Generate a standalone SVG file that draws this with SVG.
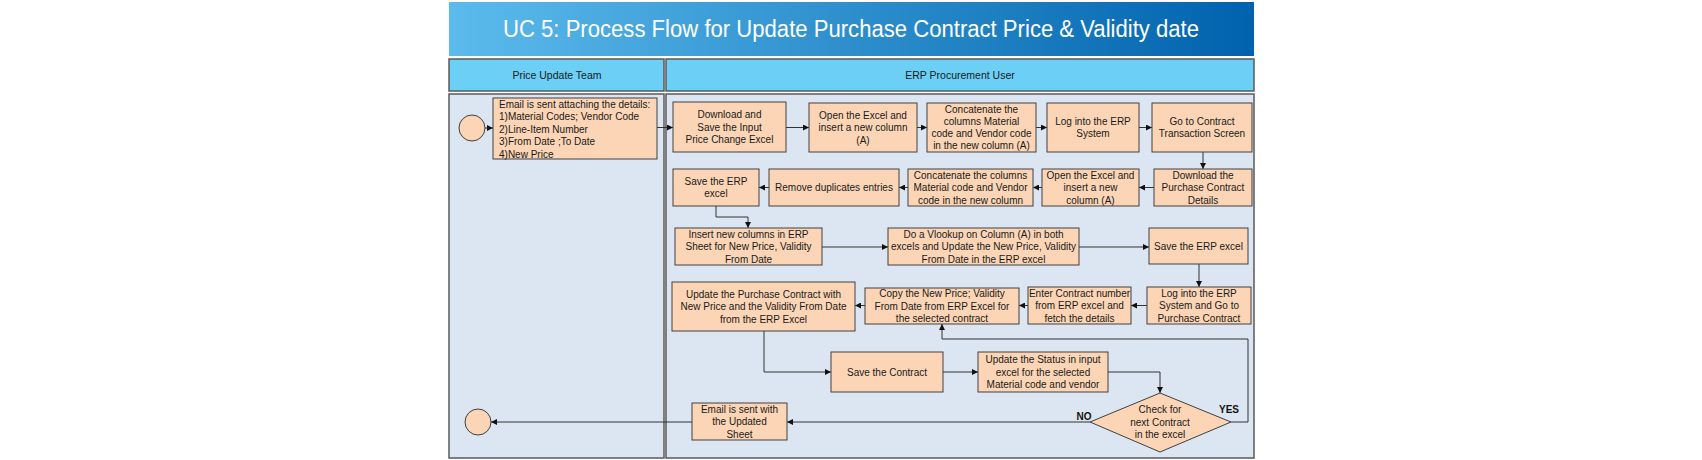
<svg xmlns="http://www.w3.org/2000/svg" width="1702" height="460" viewBox="0 0 1702 460">
<defs>
<linearGradient id="tg" x1="0" y1="0" x2="1" y2="0">
<stop offset="0" stop-color="#5cbbec"/>
<stop offset="1" stop-color="#0062ad"/>
</linearGradient>
<marker id="ah" markerUnits="userSpaceOnUse" markerWidth="7" markerHeight="6" refX="6" refY="3" orient="auto">
<path d="M0,0 L6,3 L0,6 z" fill="#111"/>
</marker>
<style>
.lane{fill:#dce6f2;stroke:#5a5a5a;stroke-width:1.5}
.hdr{fill:#6ccff5;stroke:#5a5a5a;stroke-width:1.5}
.box{fill:#fbd5b5;stroke:#404040;stroke-width:1}
.t{font-family:"Liberation Sans",Arial,sans-serif;font-size:10px;fill:#1a1a1a;text-anchor:middle}
.tl{text-anchor:start}
.h{font-family:"Liberation Sans",Arial,sans-serif;font-size:10.5px;fill:#1a1a1a;text-anchor:middle}
.b{font-family:"Liberation Sans",Arial,sans-serif;font-size:10px;font-weight:bold;fill:#111;text-anchor:middle}
.c{fill:none;stroke:#333;stroke-width:1;marker-end:url(#ah)}
</style>
</defs>
<rect x="0" y="0" width="1702" height="460" fill="#ffffff"/>
<g id="title">
<rect x="449" y="2" width="805" height="54" fill="url(#tg)"/>
<text x="851" y="37" font-family="'Liberation Sans',Arial,sans-serif" font-size="23" fill="#ffffff" text-anchor="middle" textLength="696" lengthAdjust="spacingAndGlyphs">UC 5: Process Flow for Update Purchase Contract Price &amp; Validity date</text>
</g>
<g id="lanes">
<rect class="hdr" x="449" y="59" width="215" height="32"/>
<rect class="hdr" x="666" y="59" width="588" height="32"/>
<text class="h" x="557" y="79">Price Update Team</text>
<text class="h" x="960" y="79">ERP Procurement User</text>
<rect class="lane" x="449" y="94" width="215" height="364"/>
<rect class="lane" x="666" y="94" width="588" height="364"/>
</g>
<g id="connectors">
<path class="c" d="M485,128 H493"/>
<path class="c" d="M657,127.5 H673"/>
<path class="c" d="M786,127.5 H809"/>
<path class="c" d="M917,127.5 H927"/>
<path class="c" d="M1036,127.5 H1047"/>
<path class="c" d="M1139,127.5 H1152"/>
<path class="c" d="M1203,152 V169"/>
<path class="c" d="M1154,187.5 H1139"/>
<path class="c" d="M1042,187.5 H1033"/>
<path class="c" d="M908,187.5 H899"/>
<path class="c" d="M769,187.5 H759"/>
<path class="c" d="M716,206 V217 H748 V228"/>
<path class="c" d="M822,247 H888"/>
<path class="c" d="M1079,247 H1149"/>
<path class="c" d="M1199,264 V287"/>
<path class="c" d="M1147,305.5 H1131"/>
<path class="c" d="M1028,305.5 H1019"/>
<path class="c" d="M865,305.5 H855"/>
<path class="c" d="M764,331 V372 H831"/>
<path class="c" d="M943,372 H978"/>
<path class="c" d="M1108,372 H1160 V393"/>
<path class="c" d="M1231,422 H1248 V339 H942 V324"/>
<path class="c" d="M1090,422 H787"/>
<path class="c" d="M692,422 H491"/>
<text class="b" x="1229" y="413">YES</text>
<text class="b" x="1084" y="420">NO</text>
</g>
<g id="start"><circle cx="472" cy="128" r="13" class="box"/></g>
<g id="end"><circle cx="478" cy="422" r="13" class="box"/></g>
<g id="email">
<rect class="box" x="493" y="98" width="164" height="61"/>
<text class="t tl" x="499"><tspan x="499" y="107.5">Email is sent attaching the  details:</tspan><tspan x="499" y="120">1)Material Codes; Vendor Code</tspan><tspan x="499" y="132.5">2)Line-Item Number</tspan><tspan x="499" y="145">3)From Date ;To Date</tspan><tspan x="499" y="157.5">4)New Price</tspan></text>
</g>
<g id="download">
<rect class="box" x="673" y="102" width="113" height="50"/>
<text class="t"><tspan x="729.5" y="118">Download and</tspan><tspan x="729.5" y="130.5">Save the Input</tspan><tspan x="729.5" y="143">Price Change Excel</tspan></text>
</g>
<g id="open1">
<rect class="box" x="809" y="103" width="108" height="49"/>
<text class="t"><tspan x="863" y="118.5">Open the Excel and</tspan><tspan x="863" y="131">insert a new column</tspan><tspan x="863" y="143.5">(A)</tspan></text>
</g>
<g id="concat1">
<rect class="box" x="927" y="103" width="109" height="49"/>
<text class="t"><tspan x="981.5" y="112.5">Concatenate the</tspan><tspan x="981.5" y="124.8">columns Material</tspan><tspan x="981.5" y="137.1">code and Vendor code</tspan><tspan x="981.5" y="149.4">in the new column (A)</tspan></text>
</g>
<g id="log1">
<rect class="box" x="1047" y="103" width="92" height="49"/>
<text class="t"><tspan x="1093" y="124.8">Log into the ERP</tspan><tspan x="1093" y="137.3">System</tspan></text>
</g>
<g id="goto">
<rect class="box" x="1152" y="103" width="100" height="49"/>
<text class="t"><tspan x="1202" y="124.8">Go to Contract</tspan><tspan x="1202" y="137.3">Transaction Screen</tspan></text>
</g>
<g id="dlpcd">
<rect class="box" x="1154" y="169" width="98" height="37"/>
<text class="t"><tspan x="1203" y="178.5">Download the</tspan><tspan x="1203" y="191">Purchase Contract</tspan><tspan x="1203" y="203.5">Details</tspan></text>
</g>
<g id="open2">
<rect class="box" x="1042" y="169" width="97" height="37"/>
<text class="t"><tspan x="1090.5" y="178.5">Open the Excel and</tspan><tspan x="1090.5" y="191">insert a new</tspan><tspan x="1090.5" y="203.5">column (A)</tspan></text>
</g>
<g id="concat2">
<rect class="box" x="908" y="169" width="125" height="37"/>
<text class="t"><tspan x="970.5" y="178.5">Concatenate the columns</tspan><tspan x="970.5" y="191">Material code and Vendor</tspan><tspan x="970.5" y="203.5">code in the new column</tspan></text>
</g>
<g id="remove">
<rect class="box" x="769" y="169" width="130" height="37"/>
<text class="t" x="834" y="191">Remove duplicates entries</text>
</g>
<g id="save1">
<rect class="box" x="673" y="169" width="86" height="37"/>
<text class="t"><tspan x="716" y="184.8">Save the ERP</tspan><tspan x="716" y="197.3">excel</tspan></text>
</g>
<g id="insert">
<rect class="box" x="675" y="228" width="147" height="37"/>
<text class="t"><tspan x="748.5" y="237.5">Insert new columns in ERP</tspan><tspan x="748.5" y="250">Sheet for New Price, Validity</tspan><tspan x="748.5" y="262.5">From Date</tspan></text>
</g>
<g id="vlookup">
<rect class="box" x="888" y="228" width="191" height="37"/>
<text class="t"><tspan x="983.5" y="237.5">Do a Vlookup on Column (A) in both</tspan><tspan x="983.5" y="250">excels and Update the New Price, Validity</tspan><tspan x="983.5" y="262.5">From Date in the ERP excel</tspan></text>
</g>
<g id="save2">
<rect class="box" x="1149" y="228" width="99" height="36"/>
<text class="t" x="1198.5" y="249.5">Save the ERP excel</text>
</g>
<g id="log2">
<rect class="box" x="1147" y="287" width="104" height="37"/>
<text class="t"><tspan x="1199" y="296.5">Log into the ERP</tspan><tspan x="1199" y="309">System and Go to</tspan><tspan x="1199" y="321.5">Purchase Contract</tspan></text>
</g>
<g id="enter">
<rect class="box" x="1028" y="287" width="103" height="37"/>
<text class="t"><tspan x="1079.5" y="296.5">Enter Contract number</tspan><tspan x="1079.5" y="309">from ERP excel and</tspan><tspan x="1079.5" y="321.5">fetch the details</tspan></text>
</g>
<g id="copy">
<rect class="box" x="865" y="288" width="154" height="36"/>
<text class="t"><tspan x="942" y="297">Copy the New Price; Validity</tspan><tspan x="942" y="309.5">From Date from ERP Excel for</tspan><tspan x="942" y="322">the selected contract</tspan></text>
</g>
<g id="updpc">
<rect class="box" x="672" y="282" width="183" height="49"/>
<text class="t"><tspan x="763.5" y="297.5">Update the Purchase Contract with</tspan><tspan x="763.5" y="310">New Price  and the Validity From Date</tspan><tspan x="763.5" y="322.5">from the ERP Excel</tspan></text>
</g>
<g id="savecontract">
<rect class="box" x="831" y="352" width="112" height="40"/>
<text class="t" x="887" y="375.5">Save the Contract</text>
</g>
<g id="status">
<rect class="box" x="978" y="352" width="130" height="40"/>
<text class="t"><tspan x="1043" y="363">Update the Status in input</tspan><tspan x="1043" y="375.5">excel  for the selected</tspan><tspan x="1043" y="388">Material code and vendor</tspan></text>
</g>
<g id="check">
<polygon class="box" points="1160,393 1231,422 1160,452 1090,422"/>
<text class="t"><tspan x="1160" y="413">Check for</tspan><tspan x="1160" y="425.5">next Contract</tspan><tspan x="1160" y="438">in the excel</tspan></text>
</g>
<g id="emailsent">
<rect class="box" x="692" y="403" width="95" height="37"/>
<text class="t"><tspan x="739.5" y="412.5">Email is sent with</tspan><tspan x="739.5" y="425">the Updated</tspan><tspan x="739.5" y="437.5">Sheet</tspan></text>
</g>
</svg>
